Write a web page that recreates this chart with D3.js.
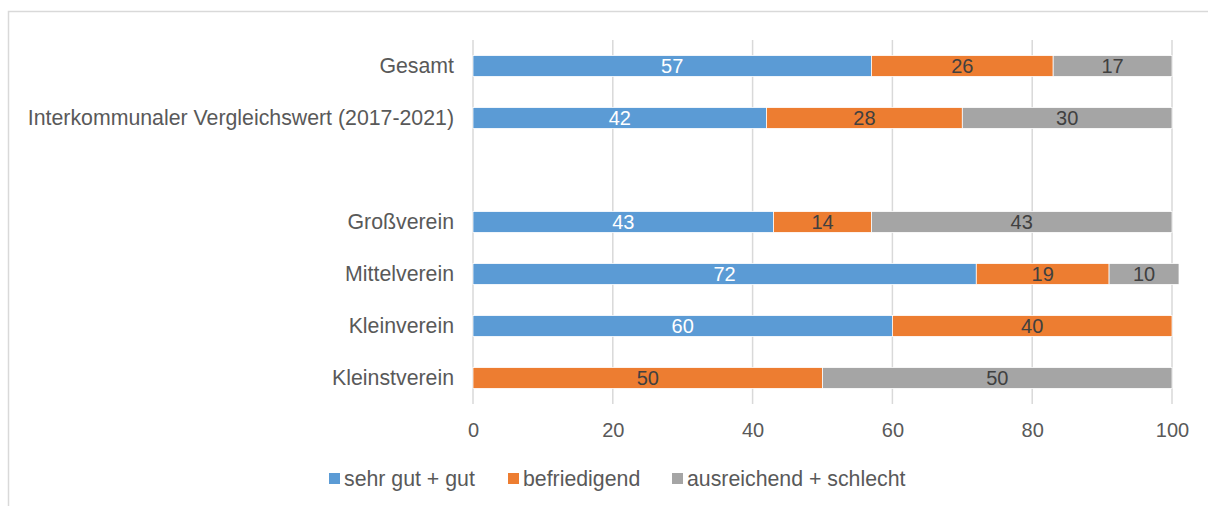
<!DOCTYPE html>
<html>
<head>
<meta charset="utf-8">
<script src="https://cdn.jsdelivr.net/npm/d3@7"></script>
<style>
  html, body { margin: 0; padding: 0; background: #fff; }
  svg { display: block; font-family: "Liberation Sans", Arial, sans-serif; }
</style>
</head>
<body>
<svg id="chart" width="1208" height="506"></svg>
<script>
// Rows from top to bottom; the empty entry leaves a gap between the overview and the club sizes
const categories = ["Gesamt", "Interkommunaler Vergleichswert (2017-2021)", "", "Großverein", "Mittelverein", "Kleinverein", "Kleinstverein"];
const seriesNames = ["sehr gut + gut", "befriedigend", "ausreichend + schlecht"];
const sehrGutGut = [57, 42, null, 43, 72, 60, 0];
const befriedigend = [26, 28, null, 14, 19, 40, 50];
const ausreichendSchlecht = [17, 30, null, 43, 10, 0, 50];
const xTicks = [0, 20, 40, 60, 80, 100];

const colors = ["#5B9BD5", "#ED7D31", "#A5A5A5"];
const labelColors = ["#ffffff", "#404040", "#404040"];
const textColor = "#595959";

const svg = d3.select("#chart");

// outer frame of the chart area
svg.append("rect")
  .attr("x", 8.5).attr("y", 11.5)
  .attr("width", 1400).attr("height", 700)
  .attr("fill", "none").attr("stroke", "#d9d9d9").attr("stroke-width", 1.5);

const x = d3.scaleLinear().domain([0, 100]).range([473, 1172]);
const y = d3.scaleBand().domain(categories).range([40, 404]).paddingInner(0.6).paddingOuter(0.3);

// vertical gridlines
svg.append("g")
  .selectAll("line")
  .data(xTicks)
  .join("line")
  .attr("x1", d => x(d)).attr("x2", d => x(d))
  .attr("y1", 40).attr("y2", 404)
  .attr("stroke", "#d9d9d9").attr("stroke-width", 1.5);

// x axis tick labels
const xAxis = d3.axisBottom(x).tickValues(xTicks).tickSize(0).tickPadding(0);
const gx = svg.append("g").attr("transform", "translate(0,423)").call(xAxis);
gx.select(".domain").remove();
gx.selectAll("text")
  .attr("font-size", 20).attr("fill", textColor)
  .attr("font-family", "'Liberation Sans', Arial, sans-serif")
  .attr("dy", "0.71em");

// category labels
const yAxis = d3.axisLeft(y).tickSize(0).tickPadding(19);
const gy = svg.append("g").attr("transform", `translate(${x(0)},0)`).call(yAxis);
gy.select(".domain").remove();
gy.selectAll("text")
  .attr("font-size", 21.3).attr("fill", textColor)
  .attr("font-family", "'Liberation Sans', Arial, sans-serif");

// stacked segments
const rows = categories.map((c, i) => ({
  cat: c,
  vals: [sehrGutGut[i], befriedigend[i], ausreichendSchlecht[i]]
})).filter(r => r.vals[0] !== null);

const segments = [];
rows.forEach(r => {
  let acc = 0;
  r.vals.forEach((v, s) => {
    if (v > 0) segments.push({ cat: r.cat, s, x0: acc, x1: acc + v, v });
    acc += v;
  });
});

svg.append("g")
  .selectAll("rect")
  .data(segments)
  .join("rect")
  .attr("x", d => x(d.x0))
  .attr("width", d => x(d.x1) - x(d.x0))
  .attr("y", d => y(d.cat))
  .attr("height", y.bandwidth())
  .attr("fill", d => colors[d.s])
  .attr("stroke", "#ffffff").attr("stroke-width", 0.75);

svg.append("g")
  .selectAll("text")
  .data(segments)
  .join("text")
  .attr("x", d => (x(d.x0) + x(d.x1)) / 2)
  .attr("y", d => y(d.cat) + y.bandwidth() / 2)
  .attr("dy", "0.37em")
  .attr("text-anchor", "middle")
  .attr("font-size", 20)
  .attr("fill", d => labelColors[d.s])
  .text(d => d.v);

// legend
const legendX = [329, 508, 672];
const legend = svg.append("g")
  .selectAll("g")
  .data(seriesNames)
  .join("g")
  .attr("transform", (d, i) => `translate(${legendX[i]},478.5)`);
legend.append("rect")
  .attr("x", 0).attr("y", -5.5).attr("width", 11).attr("height", 11)
  .attr("fill", (d, i) => colors[i]);
legend.append("text")
  .attr("x", 15).attr("dy", "0.35em")
  .attr("font-size", 21.3).attr("fill", textColor)
  .text(d => d);
</script>
</body>
</html>
